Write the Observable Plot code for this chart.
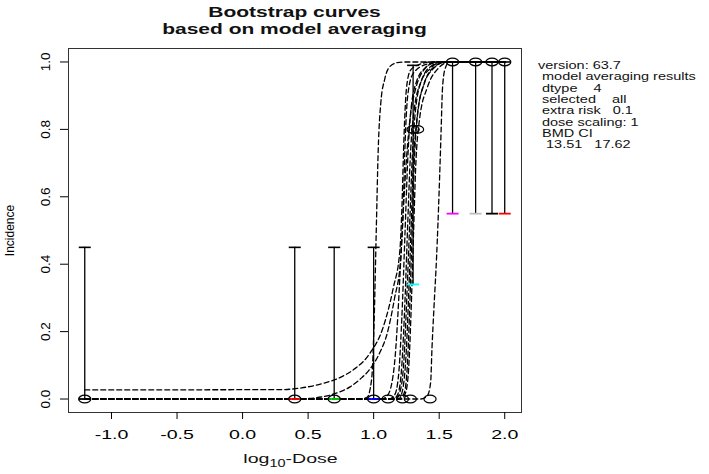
<!DOCTYPE html>
<html><head><meta charset="utf-8">
<script src="https://cdn.jsdelivr.net/npm/d3@7"></script>
<script src="https://cdn.jsdelivr.net/npm/@observablehq/plot@0.6"></script>
<style>
body{margin:0;background:#fff;}
svg text{white-space:pre;}
</style></head><body><div id="chart"></div>
<script>
// ---- data ----
const logDose   = [-1.204, 0.398, 0.699, 1.0, 1.301, 1.602, 1.778, 1.903, 2.0];
const incidence = [0, 0, 0, 0, 0.8, 1, 1, 1, 1];
const ciLower   = [0, 0, 0, 0, 0.34, 0.55, 0.55, 0.55, 0.55];
const ciUpper   = [0.45, 0.45, 0.45, 0.45, 0.99, 1, 1, 1, 1];
const ciColors  = ["black", "red", "#00cd00", "blue", "cyan", "magenta", "#bebebe", "black", "red"];
const extraMarkX = [1.11, 1.22, 1.28, 1.43, 1.335];
const extraMarkY = [0, 0, 0, 0, 0.8];

const curveA = [[-1.204,0.027],[0.3,0.028],[0.45,0.033],[0.6,0.045],[0.75,0.065],[0.85,0.088],[0.97,0.135],[1.07,0.21],[1.15,0.33],[1.2,0.44],[1.215,0.56],[1.23,0.76],[1.25,0.92],[1.28,0.975],[1.35,0.993],[1.45,1],[2.0,1]];
const curveB = [[-1.204,0],[0.9,0],[0.95,0.005],[0.985,0.06],[1.005,0.25],[1.02,0.5],[1.035,0.74],[1.055,0.88],[1.085,0.95],[1.12,0.985],[1.18,0.998],[1.25,1],[2.0,1]];
const curveC = [[-1.204,0],[0.45,0.001],[0.6,0.006],[0.72,0.018],[0.82,0.036],[0.9,0.06],[0.97,0.088],[1.05,0.14],[1.1,0.19],[1.16,0.3],[1.205,0.41],[1.225,0.56],[1.24,0.76],[1.26,0.9],[1.3,0.965],[1.4,0.993],[1.5,1],[2.0,1]];
const curveD = [[-1.204,0],[1.36,0],[1.41,0.01],[1.435,0.05],[1.445,0.15],[1.46,0.27],[1.48,0.42],[1.5,0.62],[1.515,0.8],[1.525,0.92],[1.545,0.98],[1.58,1],[2.0,1]];
const curveE = [[-1.204,0],[1.06,0],[1.1,0.008],[1.14,0.05],[1.165,0.13],[1.185,0.25],[1.205,0.4],[1.225,0.55],[1.25,0.71],[1.28,0.84],[1.32,0.92],[1.38,0.975],[1.46,0.997],[1.55,1],[2.0,1]];
const curveF = [[-1.204,0],[1.12,0],[1.16,0.012],[1.19,0.07],[1.215,0.24],[1.24,0.5],[1.26,0.71],[1.285,0.86],[1.33,0.945],[1.4,0.985],[1.48,1],[2.0,1]];
const curveG = [[-1.204,0],[1.15,0],[1.185,0.015],[1.215,0.1],[1.24,0.3],[1.26,0.52],[1.28,0.72],[1.31,0.86],[1.36,0.94],[1.43,0.98],[1.52,1],[2.0,1]];
const curveH = [[-1.204,0],[1.17,0],[1.2,0.02],[1.23,0.11],[1.255,0.32],[1.275,0.52],[1.295,0.72],[1.32,0.86],[1.37,0.95],[1.44,0.988],[1.52,1],[2.0,1]];
const curveI = [[-1.204,0],[1.19,0],[1.22,0.025],[1.25,0.15],[1.27,0.34],[1.285,0.5],[1.3,0.67],[1.33,0.83],[1.38,0.93],[1.45,0.978],[1.55,1],[2.0,1]];
const curveJ = [[-1.204,0],[1.2,0],[1.235,0.02],[1.26,0.12],[1.28,0.33],[1.295,0.52],[1.31,0.7],[1.34,0.86],[1.39,0.94],[1.46,0.985],[1.55,1],[2.0,1]];
const curveK = [[-1.204,0],[1.21,0],[1.245,0.02],[1.27,0.11],[1.29,0.31],[1.305,0.5],[1.32,0.68],[1.35,0.83],[1.41,0.925],[1.49,0.98],[1.58,1],[2.0,1]];

const xTicks = [-1, -0.5, 0, 0.5, 1, 1.5, 2];
const yTicks = [0, 0.2, 0.4, 0.6, 0.8, 1];
const titleLines = ["Bootstrap curves", "based on model averaging"];
const sideLines = ["version: 63.7", " model averaging results", " dtype    4", " selected    all", " extra risk   0.1", " dose scaling: 1", " BMD CI", "  13.51   17.62"];
const yLabel = "Incidence";

// ---- tables ----
const doseTable = logDose.map((x, i) => ({x, inc: incidence[i], lo: ciLower[i], hi: ciUpper[i], col: ciColors[i]}));
const curves = [curveA, curveB, curveC, curveD, curveE, curveF, curveG, curveH, curveI, curveJ, curveK];
const curveTable = curves.flatMap((c, k) => c.map(([x, y]) => ({x, y, k})));
const extraTable = extraMarkX.map((x, i) => ({x, y: extraMarkY[i]}));

const hline = {draw(ctx, size) { const r = Math.sqrt(size / Math.PI); ctx.moveTo(-r, 0); ctx.lineTo(r, 0); }};
const oval = {draw(ctx, size) {
  const r = Math.sqrt(size / Math.PI), rx = r * 1.6, ry = r, k = 0.5523;
  ctx.moveTo(rx, 0);
  ctx.bezierCurveTo(rx, ry * k, rx * k, ry, 0, ry);
  ctx.bezierCurveTo(-rx * k, ry, -rx, ry * k, -rx, 0);
  ctx.bezierCurveTo(-rx, -ry * k, -rx * k, -ry, 0, -ry);
  ctx.bezierCurveTo(rx * k, -ry, rx, -ry * k, rx, 0);
  ctx.closePath();
}};

const FONT = "'Liberation Sans', Arial, sans-serif";
const chart = Plot.plot({
  width: 709, height: 474,
  marginLeft: 68, marginRight: 188, marginTop: 48, marginBottom: 62,
  x: {domain: [-1.328, 2.128]},
  y: {domain: [-0.04, 1.04]},
  color: {type: "identity"},
  style: {fontFamily: FONT, color: "black", background: "white", overflow: "visible"},
  marks: [
    Plot.frame({stroke: "#333"}),
    Plot.axisX({ticks: xTicks, tickSize: 7, tickPadding: 10, tickFormat: d => d.toFixed(1), fontSize: 13.5, label: null}),
    Plot.axisY({ticks: yTicks, tickSize: 8, tickFormat: () => "", label: null}),
    Plot.text(yTicks, {y: d => d, text: d => d.toFixed(1), frameAnchor: "left", dx: -19, rotate: -90, textAnchor: "middle", lineAnchor: "bottom", fontSize: 13.5, ariaLabel: "ytick-label"}),
    Plot.text([yLabel], {text: d => d, frameAnchor: "left", dx: -58, rotate: -90, textAnchor: "middle", lineAnchor: "middle", fontSize: 12, ariaLabel: "ylabel"}),
    Plot.line(curveTable, {x: "x", y: "y", z: "k", stroke: "black", strokeWidth: 1.3, strokeDasharray: "5,3", curve: "monotone-x"}),
    Plot.ruleX(doseTable, {x: "x", y1: "lo", y2: "hi", stroke: "black", strokeWidth: 1.3}),
    Plot.dot(doseTable, {x: "x", y: "hi", symbol: hline, r: 6, stroke: "black", fill: "none", strokeWidth: 1.6}),
    Plot.dot(doseTable, {x: "x", y: "lo", symbol: hline, r: 6, stroke: "col", fill: "none", strokeWidth: 1.8}),
    Plot.dot(doseTable, {x: "x", y: "inc", symbol: oval, r: 3.8, stroke: "black", fill: "none", strokeWidth: 1.3}),
    Plot.dot(extraTable, {x: "x", y: "y", symbol: oval, r: 3.8, stroke: "black", fill: "none", strokeWidth: 1.2})
  ]
});
document.getElementById("chart").appendChild(chart);

// ---- horizontal stretch of tick text like the reference rendering ----
const svgSel = d3.select(chart);
svgSel.selectAll('g[aria-label="x-axis tick label"] text').each(function() {
  const w = this.getComputedTextLength();
  if (w > 0) { this.setAttribute("textLength", (w * 1.45).toFixed(1)); this.setAttribute("lengthAdjust", "spacingAndGlyphs"); }
});

const xRange = chart.scale("x").range;
const centerX = (xRange[0] + xRange[1]) / 2;
const rightX = Math.max(xRange[0], xRange[1]);

titleLines.forEach((s, i) => {
  svgSel.append("text").attr("transform", `translate(${centerX},${17 + i * 16.5}) scale(1.5,1)`)
    .attr("text-anchor", "middle").attr("font-weight", "bold").attr("font-size", 14)
    .attr("font-family", FONT).attr("fill", "#111").text(s);
});
sideLines.forEach((s, i) => {
  svgSel.append("text").attr("transform", `translate(${rightX + 17},${69 + i * 11.3}) scale(1.38,1)`)
    .attr("text-anchor", "start").attr("font-size", 10.5).attr("font-family", FONT).attr("fill", "#111").text(s);
});
const xl = svgSel.append("text").attr("transform", `translate(${centerX - 4},463) scale(1.45,1)`)
  .attr("text-anchor", "middle").attr("font-size", 13.5).attr("font-family", FONT).attr("fill", "#111");
xl.append("tspan").text("log");
xl.append("tspan").attr("font-size", 10).attr("dy", 4).text("10");
xl.append("tspan").attr("dy", -4).text("-Dose");
</script></body></html>
